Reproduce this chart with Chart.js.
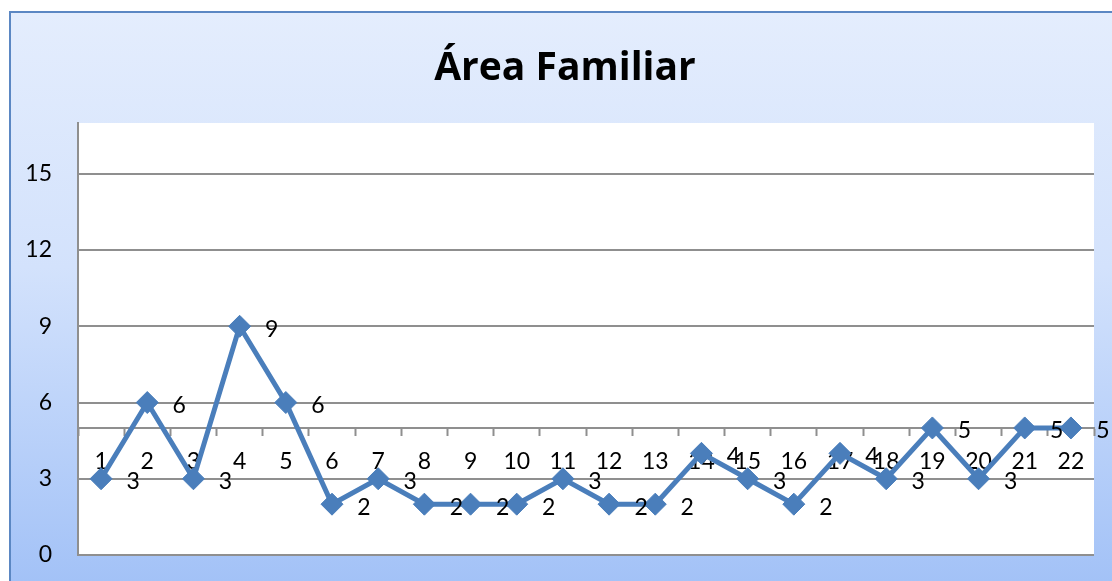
<!DOCTYPE html>
<html>
<head>
<meta charset="utf-8">
<script src="https://cdn.jsdelivr.net/npm/chart.js@4/dist/chart.umd.min.js"></script>
<style>
  html, body { margin: 0; padding: 0; background: #fff; }
  #wrap { width: 1112px; height: 581px; }
</style>
</head>
<body>
<div id="wrap"><canvas id="chart" width="1112" height="581"></canvas></div>
<script>
const titleText = 'Área Familiar';
const categories = ['1','2','3','4','5','6','7','8','9','10','11','12','13','14','15','16','17','18','19','20','21','22'];
const values = [3, 6, 3, 9, 6, 2, 3, 2, 2, 2, 3, 2, 2, 4, 3, 2, 4, 3, 5, 3, 5, 5];
const yTicks = [0, 3, 6, 9, 12, 15];

const FONT = 'Lato, "Open Sans", sans-serif';
const GRID = '#8f8f8f';

// background, plot area and title
const backdrop = {
    id: 'backdrop',
    beforeDraw(chart) {
        const { ctx, chartArea: a } = chart;
        ctx.save();
        ctx.fillStyle = '#fff';
        ctx.fillRect(0, 0, chart.width, chart.height);
        const g = ctx.createLinearGradient(0, 11, 0, 581);
        g.addColorStop(0, '#e4edfd');
        g.addColorStop(0.45, '#d3e2fc');
        g.addColorStop(1, '#a3c2f7');
        ctx.fillStyle = g;
        ctx.fillRect(9, 11, chart.width, chart.height);
        ctx.strokeStyle = '#5b87c3';
        ctx.lineWidth = 2;
        ctx.beginPath();
        ctx.moveTo(10, chart.height + 2);
        ctx.lineTo(10, 12);
        ctx.lineTo(chart.width + 2, 12);
        ctx.stroke();
        ctx.fillStyle = '#fff';
        ctx.fillRect(a.left, a.top, a.right - a.left, a.bottom - a.top);
        ctx.fillStyle = '#000';
        ctx.font = 'bold 39px "Open Sans", ' + FONT;
        ctx.textAlign = 'center';
        ctx.textBaseline = 'alphabetic';
        ctx.fillText(titleText, 565, 80);
        ctx.restore();
    }
};

// value labels to the right of each point
const valueLabels = {
    id: 'valueLabels',
    afterDatasetsDraw(chart) {
        const { ctx } = chart;
        const meta = chart.getDatasetMeta(0);
        ctx.save();
        ctx.fillStyle = '#000';
        ctx.font = '23px ' + FONT;
        ctx.textAlign = 'center';
        ctx.textBaseline = 'middle';
        meta.data.forEach((pt, i) => {
            ctx.fillText(String(values[i]), pt.x + 32, pt.y + 3);
        });
        ctx.restore();
    }
};

new Chart(document.getElementById('chart'), {
    type: 'line',
    data: {
        labels: categories,
        datasets: [{
            data: values,
            borderColor: '#4a7ebb',
            backgroundColor: '#4a7ebb',
            borderWidth: 5,
            pointStyle: 'rectRot',
            pointRadius: 11,
            pointBorderWidth: 1,
            pointBorderColor: '#4a7ebb',
            pointBackgroundColor: '#4a7ebb',
            tension: 0,
            clip: false
        }]
    },
    options: {
        responsive: false,
        animation: false,
        layout: { padding: { left: 0, top: 123, right: 18, bottom: 26 } },
        plugins: {
            legend: { display: false },
            title: { display: false },
            tooltip: { enabled: false }
        },
        scales: {
            x: {
                type: 'category',
                position: { y: 5 },
                offset: true,
                grid: {
                    offset: true,
                    drawOnChartArea: false,
                    drawTicks: true,
                    tickLength: 7,
                    tickWidth: 2,
                    color: GRID
                },
                border: { display: true, color: GRID, width: 2 },
                ticks: {
                    color: '#000',
                    font: { family: FONT, size: 23 },
                    padding: 13,
                    maxRotation: 0,
                    autoSkip: false
                }
            },
            y: {
                min: 0,
                max: 17,
                afterFit(scale) {
                    scale.width = 78;
                    scale.paddingTop = 0;
                    scale.paddingBottom = 0;
                },
                afterBuildTicks(scale) { scale.ticks = yTicks.map(v => ({ value: v })); },
                grid: { color: GRID, lineWidth: 2, drawTicks: false },
                border: { display: true, color: GRID, width: 2 },
                ticks: {
                    color: '#000',
                    font: { family: FONT, size: 23 },
                    padding: 26
                }
            }
        }
    },
    plugins: [backdrop, valueLabels]
});
</script>
</body>
</html>
